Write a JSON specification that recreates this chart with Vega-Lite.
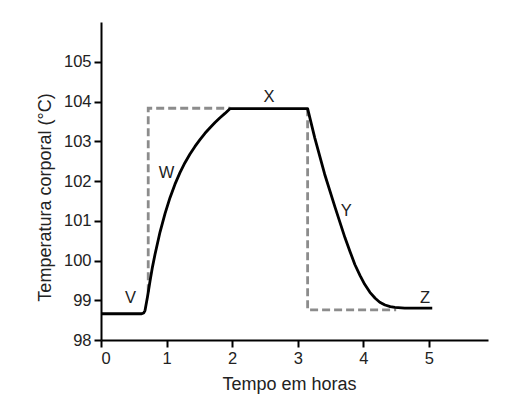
{
  "$schema": "https://vega.github.io/schema/vega-lite/v6.json",
  "description": "Curva de febre: temperatura corporal ao longo do tempo.",
  "width": 387,
  "height": 318,
  "autosize": "none",
  "padding": {"left": 101, "top": 22, "right": 36, "bottom": 72},
  "background": "white",
  "layer": [
    {
      "data": {
        "values": [
          {"seg": "a", "i": 1, "t": 0.72, "temp": 99.2},
          {"seg": "a", "i": 2, "t": 0.72, "temp": 103.83},
          {"seg": "a", "i": 3, "t": 1.97, "temp": 103.83},
          {"seg": "b", "i": 1, "t": 3.15, "temp": 103.83},
          {"seg": "b", "i": 2, "t": 3.15, "temp": 98.76},
          {"seg": "b", "i": 3, "t": 4.5, "temp": 98.76}
        ]
      },
      "mark": {"type": "line", "color": "#8c8c8c", "strokeWidth": 2.8, "strokeDash": [8, 4]},
      "encoding": {
        "x": {"field": "t", "type": "quantitative"},
        "y": {"field": "temp", "type": "quantitative"},
        "detail": {"field": "seg"},
        "order": {"field": "i"}
      }
    },
    {
      "data": {
        "values": [
          {"i": 1, "t": 0, "temp": 98.66},
          {"i": 2, "t": 0.62, "temp": 98.66},
          {"i": 3, "t": 0.65, "temp": 98.68},
          {"i": 4, "t": 0.671, "temp": 98.74},
          {"i": 5, "t": 0.709, "temp": 99.09},
          {"i": 6, "t": 0.747, "temp": 99.48},
          {"i": 7, "t": 0.785, "temp": 99.84},
          {"i": 8, "t": 0.823, "temp": 100.15},
          {"i": 9, "t": 0.899, "temp": 100.71},
          {"i": 10, "t": 0.976, "temp": 101.18},
          {"i": 11, "t": 1.052, "temp": 101.58},
          {"i": 12, "t": 1.128, "temp": 101.92},
          {"i": 13, "t": 1.204, "temp": 102.21},
          {"i": 14, "t": 1.28, "temp": 102.46},
          {"i": 15, "t": 1.357, "temp": 102.68},
          {"i": 16, "t": 1.433, "temp": 102.87},
          {"i": 17, "t": 1.509, "temp": 103.04},
          {"i": 18, "t": 1.585, "temp": 103.2},
          {"i": 19, "t": 1.662, "temp": 103.34},
          {"i": 20, "t": 1.738, "temp": 103.47},
          {"i": 21, "t": 1.814, "temp": 103.59},
          {"i": 22, "t": 1.89, "temp": 103.7},
          {"i": 23, "t": 1.966, "temp": 103.82},
          {"i": 24, "t": 3.15, "temp": 103.82},
          {"i": 25, "t": 3.26, "temp": 103.08},
          {"i": 26, "t": 3.41, "temp": 102.17},
          {"i": 27, "t": 3.57, "temp": 101.33},
          {"i": 28, "t": 3.72, "temp": 100.57},
          {"i": 29, "t": 3.8, "temp": 100.21},
          {"i": 30, "t": 3.87, "temp": 99.9},
          {"i": 31, "t": 3.95, "temp": 99.62},
          {"i": 32, "t": 4.02, "temp": 99.4},
          {"i": 33, "t": 4.1, "temp": 99.2},
          {"i": 34, "t": 4.18, "temp": 99.05},
          {"i": 35, "t": 4.25, "temp": 98.95},
          {"i": 36, "t": 4.33, "temp": 98.88},
          {"i": 37, "t": 4.41, "temp": 98.84},
          {"i": 38, "t": 4.48, "temp": 98.82},
          {"i": 39, "t": 4.63, "temp": 98.8},
          {"i": 40, "t": 5.05, "temp": 98.8}
        ]
      },
      "mark": {"type": "line", "color": "black", "strokeWidth": 2.8, "strokeJoin": "round"},
      "encoding": {
        "x": {"field": "t", "type": "quantitative"},
        "y": {"field": "temp", "type": "quantitative"},
        "order": {"field": "i"}
      }
    },
    {
      "data": {
        "values": [
          {"label": "V", "t": 0.45, "temp": 99.06},
          {"label": "W", "t": 1.0, "temp": 102.2},
          {"label": "X", "t": 2.56, "temp": 104.12},
          {"label": "Y", "t": 3.74, "temp": 101.24},
          {"label": "Z", "t": 4.94, "temp": 99.05}
        ]
      },
      "mark": {"type": "text", "font": "Liberation Sans", "fontSize": 16.5, "color": "#222"},
      "encoding": {
        "x": {"field": "t", "type": "quantitative"},
        "y": {"field": "temp", "type": "quantitative"},
        "text": {"field": "label"}
      }
    }
  ],
  "encoding": {
    "x": {
      "field": "t",
      "type": "quantitative",
      "scale": {"domain": [0, 5.9], "nice": false},
      "axis": {"values": [0, 1, 2, 3, 4, 5], "title": "Tempo em horas", "titleX": 188}
    },
    "y": {
      "field": "temp",
      "type": "quantitative",
      "scale": {"domain": [98, 106], "nice": false, "zero": false},
      "axis": {"values": [98, 99, 100, 101, 102, 103, 104, 105], "title": "Temperatura corporal (°C)", "titleY": 175}
    }
  },
  "config": {
    "view": {"stroke": null},
    "axis": {
      "grid": false,
      "domainColor": "black",
      "domainWidth": 2,
      "tickColor": "black",
      "tickWidth": 2,
      "tickSize": 7,
      "labelFont": "Liberation Sans",
      "labelFontSize": 16.5,
      "labelColor": "#222",
      "labelPadding": 3,
      "titleFont": "Liberation Sans",
      "titleFontSize": 18,
      "titleFontWeight": "normal",
      "titleColor": "#222"
    },
    "axisX": {"titlePadding": 9},
    "axisY": {"titlePadding": 9}
  }
}
